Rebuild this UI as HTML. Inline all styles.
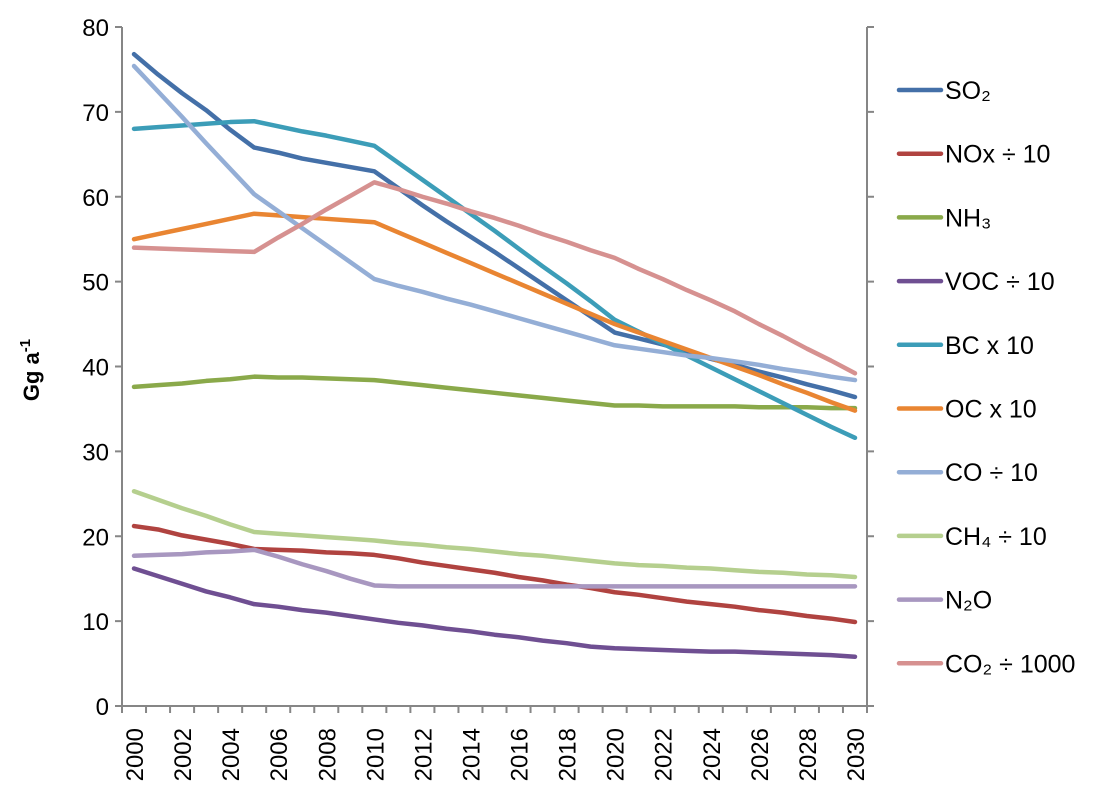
<!DOCTYPE html>
<html><head><meta charset="utf-8"><style>
body{margin:0;background:#fff;}
svg text{font-family:"Liberation Sans",Calibri,sans-serif;fill:#000;}
</style></head><body>
<svg id="chart" width="1099" height="801"></svg>
<script>
const years=[2000,2001,2002,2003,2004,2005,2006,2007,2008,2009,2010,2011,2012,2013,2014,2015,2016,2017,2018,2019,2020,2021,2022,2023,2024,2025,2026,2027,2028,2029,2030];
const yTicks=[0,10,20,30,40,50,60,70,80];
const so2=[76.8,74.4,72.2,70.2,67.9,65.8,65.2,64.5,64.0,63.5,63.0,61.0,59.0,57.1,55.3,53.5,51.6,49.7,47.8,45.9,44.0,43.3,42.6,41.8,40.9,40.2,39.4,38.7,37.9,37.2,36.4];
const nox=[21.2,20.8,20.1,19.6,19.1,18.5,18.4,18.3,18.1,18.0,17.8,17.4,16.9,16.5,16.1,15.7,15.2,14.8,14.3,13.9,13.4,13.1,12.7,12.3,12.0,11.7,11.3,11.0,10.6,10.3,9.9];
const nh3=[37.6,37.8,38.0,38.3,38.5,38.8,38.7,38.7,38.6,38.5,38.4,38.1,37.8,37.5,37.2,36.9,36.6,36.3,36.0,35.7,35.4,35.4,35.3,35.3,35.3,35.3,35.2,35.2,35.2,35.1,35.1];
const voc=[16.2,15.3,14.4,13.5,12.8,12.0,11.7,11.3,11.0,10.6,10.2,9.8,9.5,9.1,8.8,8.4,8.1,7.7,7.4,7.0,6.8,6.7,6.6,6.5,6.4,6.4,6.3,6.2,6.1,6.0,5.8];
const bc=[68.0,68.2,68.4,68.6,68.8,68.9,68.3,67.7,67.2,66.6,66.0,64.0,62.0,60.0,58.0,56.0,53.9,51.8,49.8,47.7,45.5,44.1,42.7,41.3,39.9,38.5,37.1,35.7,34.3,32.9,31.6];
const oc=[55.0,55.6,56.2,56.8,57.4,58.0,57.8,57.6,57.4,57.2,57.0,55.8,54.6,53.4,52.2,51.0,49.8,48.6,47.4,46.2,45.0,44.0,43.0,42.0,41.0,40.0,39.0,37.9,36.9,35.8,34.8];
const co=[75.4,72.4,69.4,66.3,63.3,60.3,58.3,56.3,54.3,52.3,50.3,49.5,48.8,48.0,47.3,46.5,45.7,44.9,44.1,43.3,42.5,42.1,41.7,41.3,41.0,40.6,40.2,39.7,39.3,38.8,38.4];
const ch4=[25.3,24.3,23.3,22.4,21.4,20.5,20.3,20.1,19.9,19.7,19.5,19.2,19.0,18.7,18.5,18.2,17.9,17.7,17.4,17.1,16.8,16.6,16.5,16.3,16.2,16.0,15.8,15.7,15.5,15.4,15.2];
const n2o=[17.7,17.8,17.9,18.1,18.2,18.4,17.6,16.7,15.9,15.0,14.2,14.1,14.1,14.1,14.1,14.1,14.1,14.1,14.1,14.1,14.1,14.1,14.1,14.1,14.1,14.1,14.1,14.1,14.1,14.1,14.1];
const co2=[54.0,53.9,53.8,53.7,53.6,53.5,55.2,56.8,58.5,60.1,61.7,60.9,60.0,59.2,58.3,57.5,56.6,55.6,54.7,53.7,52.8,51.5,50.3,49.0,47.8,46.5,45.0,43.6,42.1,40.7,39.2];
const seriesNames=["SO₂","NOx ÷ 10","NH₃","VOC ÷ 10","BC x 10","OC x 10","CO ÷ 10","CH₄ ÷ 10","N₂O","CO₂ ÷ 1000"];
const seriesKeys=["so2","nox","nh3","voc","bc","oc","co","ch4","n2o","co2"];
const seriesData=[so2,nox,nh3,voc,bc,oc,co,ch4,n2o,co2];
const colors=["#4470a8","#b04340","#8aa94a","#6f4f92","#3c9db8","#e98532","#94aed6","#b5cf8e","#a897c0","#d69190"];

const NS="http://www.w3.org/2000/svg";
const svg=document.getElementById('chart');
const L=122,R=867,T=27,B=706,ymax=80;
const step=(R-L)/years.length;
function X(i){return L+step*(i+0.5);}
function Y(v){return B-(v/ymax)*(B-T);}
function mk(tag,attrs,parent){const e=document.createElementNS(NS,tag);for(const k in attrs)e.setAttribute(k,attrs[k]);(parent||svg).appendChild(e);return e;}

const axes=mk('g',{});


mk('line',{x1:L,y1:T,x2:L,y2:B,stroke:'#868686','stroke-width':2},axes);
mk('line',{x1:R,y1:T,x2:R,y2:B,stroke:'#868686','stroke-width':2},axes);
mk('line',{x1:L-6,y1:B,x2:R+6,y2:B,stroke:'#868686','stroke-width':2},axes);
yTicks.forEach(v=>{
  mk('line',{x1:L-7,y1:Y(v),x2:L,y2:Y(v),stroke:'#868686','stroke-width':2},axes);
  mk('line',{x1:R,y1:Y(v),x2:R+7,y2:Y(v),stroke:'#868686','stroke-width':2},axes);
  const t=mk('text',{x:L-13,y:Y(v)+9,'text-anchor':'end','font-size':24},axes);
  
  
  t.textContent=v;
});
for(let i=0;i<=years.length;i++){
  mk('line',{x1:L+step*i,y1:B,x2:L+step*i,y2:B+7,stroke:'#868686','stroke-width':2},axes);
}
years.forEach((yr,i)=>{
  if(i%2) return;
  const t=mk('text',{x:0,y:0,'text-anchor':'end','font-size':24,transform:`translate(${X(i)+9},${B+22}) rotate(-90)`},axes);
  
  
  t.textContent=yr;
});
const yt=mk('text',{x:0,y:0,'text-anchor':'middle','font-size':22,'font-weight':'bold',transform:'translate(39,370) rotate(-90)'});


yt.innerHTML='Gg a<tspan dy="-9" font-size="15">-1</tspan>';

seriesData.forEach((d,s)=>{
  const p=mk('polyline',{points:d.map((v,i)=>X(i)+','+Y(v)).join(' '),fill:'none',stroke:colors[s],'stroke-width':4.5,'stroke-linejoin':'round','stroke-linecap':'round'});
  
  
});

const leg=mk('g',{});


seriesNames.forEach((n,s)=>{
  const y=90+s*63.7;
  const g=mk('g',{},leg);
  
  
  mk('line',{x1:899,y1:y,x2:941,y2:y,stroke:colors[s],'stroke-width':4.5,'stroke-linecap':'round'},g);
  const t=mk('text',{x:945,y:y+9,'font-size':25},g);
  t.textContent=n;
});
</script>
</body></html>
